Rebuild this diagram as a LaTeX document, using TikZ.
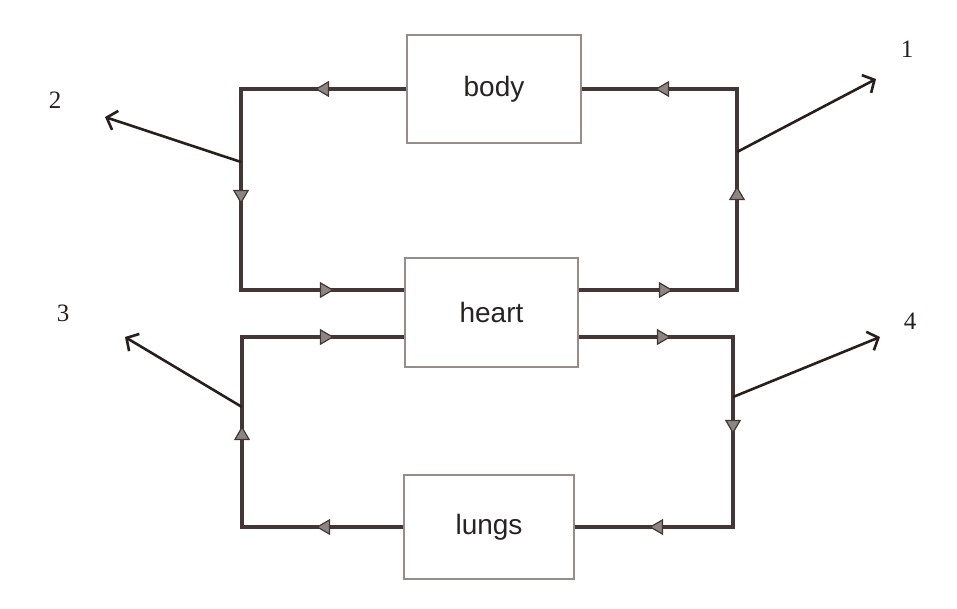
\documentclass[tikz,border=0pt]{standalone}
\usepackage{fontspec}
\setmainfont{Liberation Sans}
\newfontfamily\numfont{Liberation Serif}
\usetikzlibrary{arrows.meta,decorations.markings}
\definecolor{linec}{RGB}{68,54,54}
\definecolor{boxc}{RGB}{150,140,140}
\definecolor{tipfill}{RGB}{140,134,130}
\definecolor{outc}{RGB}{40,30,30}
\definecolor{txtc}{RGB}{40,35,35}
\tikzset{
  boxnode/.style={draw=boxc, line width=1.8pt, fill=white, text=txtc,
    font=\fontsize{28}{32}\selectfont, inner sep=0pt},
  flowtip/.tip={Triangle[length=14pt,width=16pt,line width=1.2pt,fill=tipfill]},
  flow/.style={draw=linec, line width=3.5pt},
  tipsat/.style n args={3}{postaction={decorate,decoration={markings,
    mark=at position #1 with {\arrow{flowtip}},
    mark=at position #2 with {\arrow{flowtip}},
    mark=at position #3 with {\arrow{flowtip}}}}},
  outarrow/.style={draw=outc, line width=2.6pt, -{Straight Barb[length=9pt,width=20pt,line width=2.6pt]}},
  numlabel/.style={text=outc, font=\numfont\fontsize{25}{29}\selectfont, inner sep=0pt}
}
\begin{document}
\begin{tikzpicture}[x=1pt,y=-1pt]
\useasboundingbox[fill=white] (0,0) rectangle (957,608);

\node[boxnode, minimum width=174pt, minimum height=108pt] (body) at (494,89) {body};
\node[boxnode, minimum width=173pt, minimum height=109pt] (heart) at (491.5,312.5) {heart};
\node[boxnode, minimum width=170pt, minimum height=104pt] (lungs) at (489,527) {lungs};

% corners
\coordinate (c1) at (241,89);
\coordinate (c2) at (241,290);
\coordinate (c3) at (737,290);
\coordinate (c4) at (737,89);
\coordinate (c5) at (242,527);
\coordinate (c6) at (242,337);
\coordinate (c7) at (733,337);
\coordinate (c8) at (733,527);

% loops
\draw[flow, tipsat={91pt}{280pt}{459pt}]
  (body.west) -- (c1) -- (c2) -- (c2 -| heart.west);
\draw[flow, tipsat={94pt}{262pt}{441pt}]
  (c3 -| heart.east) -- (c3) -- (c4) -- (body.east);
\draw[flow, tipsat={87pt}{262pt}{443pt}]
  (lungs.west) -- (c5) -- (c6) -- (c6 -| heart.west);
\draw[flow, tipsat={92pt}{251pt}{428pt}]
  (c7 -| heart.east) -- (c7) -- (c8) -- (lungs.east);

% branch points and outgoing arrows
\coordinate (o1) at (737,152);
\coordinate (o2) at (241,162);
\coordinate (o3) at (242,407);
\coordinate (o4) at (733,397);
\coordinate (e1) at (876,79);
\coordinate (e2) at (105,117);
\coordinate (e3) at (125,337);
\coordinate (e4) at (880,337);

\draw[outarrow] (o1) -- (e1);
\draw[outarrow] (o2) -- (e2);
\draw[outarrow] (o3) -- (e3);
\draw[outarrow] (o4) -- (e4);

\node[numlabel] (n1) at (907,49) {1};
\node[numlabel] (n2) at (55,100) {2};
\node[numlabel] (n3) at (63,313) {3};
\node[numlabel] (n4) at (910,321) {4};
\end{tikzpicture}
\end{document}
